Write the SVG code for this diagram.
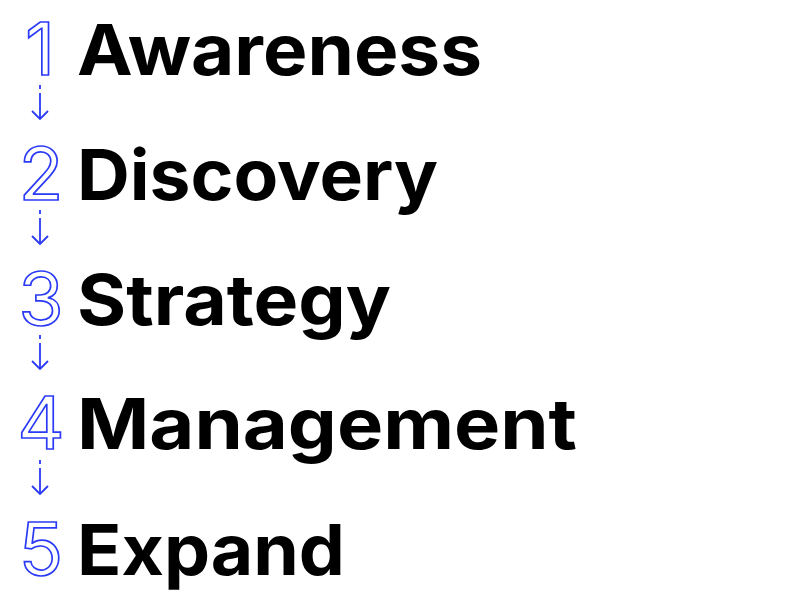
<svg xmlns="http://www.w3.org/2000/svg" width="800" height="592" viewBox="0 0 800 592">
<style>
.num{font-family:Inter,"Liberation Sans",sans-serif;font-weight:400;font-size:73px;fill:none;stroke:#2a3af5;stroke-width:1.7;text-anchor:middle}
.lbl{font-family:Inter,"Liberation Sans",sans-serif;font-weight:700;font-size:70px;fill:#000}
.arr{fill:none;stroke:#2a3af5;stroke-width:1.8;stroke-linecap:butt;stroke-linejoin:miter}
</style>
<rect width="800" height="592" fill="#fff"/>
<g id="step1"><text class="num" x="40" y="75">1</text><text class="lbl" x="77" y="75" textLength="405" lengthAdjust="spacingAndGlyphs">Awareness</text></g>
<g id="step2"><text class="num" x="41" y="200">2</text><text class="lbl" x="77" y="200" textLength="361" lengthAdjust="spacingAndGlyphs">Discovery</text></g>
<g id="step3"><text class="num" x="41" y="325">3</text><text class="lbl" x="77" y="325" textLength="314" lengthAdjust="spacingAndGlyphs">Strategy</text></g>
<g id="step4"><text class="num" x="41" y="449">4</text><text class="lbl" x="77" y="449" textLength="500" lengthAdjust="spacingAndGlyphs">Management</text></g>
<g id="step5"><text class="num" x="41" y="575">5</text><text class="lbl" x="77" y="575" textLength="268" lengthAdjust="spacingAndGlyphs">Expand</text></g>
<g id="connectors">
<g id="a1"><path class="arr" d="M40 85V89M40 93V119M32 111L40 119L48 111"/></g>
<g id="a2"><path class="arr" d="M40 210V214M40 218V244M32 236L40 244L48 236"/></g>
<g id="a3"><path class="arr" d="M40 335V339M40 343V369M32 361L40 369L48 361"/></g>
<g id="a4"><path class="arr" d="M40 460V464M40 468V494M32 486L40 494L48 486"/></g>
</g>
</svg>
